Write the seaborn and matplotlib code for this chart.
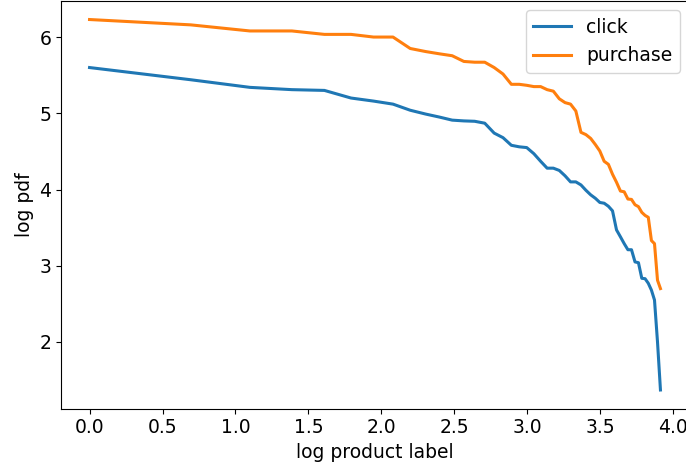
import numpy as np
import pandas as pd
import matplotlib
matplotlib.use("Agg")
import matplotlib.pyplot as plt
import seaborn as sns

# product labels (ranks 1..50), plotted as natural log
product_label = list(range(1, 51))

# log pdf values
log_pdf_click = [5.60, 5.44, 5.34, 5.31, 5.30, 5.20, 5.16, 5.12, 5.04, 4.99,
                 4.95, 4.91, 4.90, 4.895, 4.87, 4.74, 4.68, 4.58, 4.56, 4.55,
                 4.47, 4.37, 4.28, 4.28, 4.25, 4.18, 4.10, 4.10, 4.06, 3.99,
                 3.93, 3.885, 3.83, 3.82, 3.78, 3.72, 3.47, 3.38, 3.29, 3.21,
                 3.21, 3.05, 3.04, 2.835, 2.83, 2.77, 2.68, 2.55, 2.00, 1.37]
log_pdf_purchase = [6.23, 6.16, 6.08, 6.08, 6.035, 6.035, 6.00, 6.00, 5.85, 5.81,
                    5.78, 5.755, 5.68, 5.67, 5.67, 5.60, 5.515, 5.38, 5.38, 5.367,
                    5.35, 5.35, 5.31, 5.29, 5.19, 5.14, 5.12, 5.03, 4.75, 4.72,
                    4.67, 4.59, 4.505, 4.37, 4.33, 4.20, 4.095, 3.98, 3.97, 3.875,
                    3.87, 3.80, 3.775, 3.70, 3.66, 3.635, 3.33, 3.29, 2.81, 2.70]

log_label = np.log(product_label)
df = pd.concat([
    pd.DataFrame({"x": log_label, "y": log_pdf_click, "event": "click"}),
    pd.DataFrame({"x": log_label, "y": log_pdf_purchase, "event": "purchase"}),
])

plt.rcParams["font.size"] = 13.5
plt.rcParams["font.family"] = ["DejaVu Sans"]

fig = plt.figure(figsize=(6.86, 4.67), dpi=100)
# right spine falls just outside the image, as in the reference
ax = fig.add_axes([61 / 686, 58.5 / 467, 628 / 686, 407.5 / 467])

sns.lineplot(data=df, x="x", y="y", hue="event", palette=["tab:blue", "tab:orange"],
             linewidth=2.2, ax=ax)

ax.set_xlabel("log product label")
ax.set_ylabel("log pdf")
ax.set_xticks([0.0, 0.5, 1.0, 1.5, 2.0, 2.5, 3.0, 3.5, 4.0])
ax.set_yticks([2, 3, 4, 5, 6])
handles, labels = ax.get_legend_handles_labels()
ax.legend(handles, labels, loc="upper right")

fig.savefig("out.png", dpi=100)
